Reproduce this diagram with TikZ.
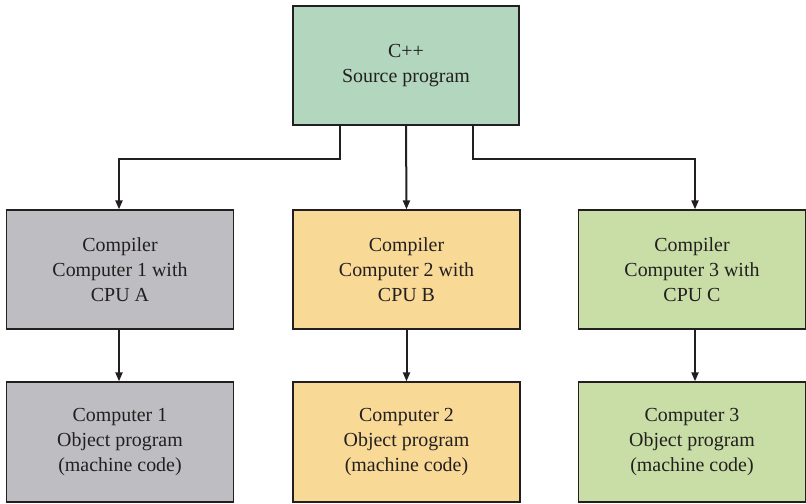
\documentclass[tikz,border=0pt]{standalone}
\usepackage{fontspec}
\setmainfont{Liberation Serif}
\usetikzlibrary{arrows.meta}
\definecolor{topg}{RGB}{178,214,190}
\definecolor{grayb}{RGB}{190,190,194}
\definecolor{yelb}{RGB}{248,217,150}
\definecolor{lgb}{RGB}{200,222,166}
\definecolor{ink}{RGB}{35,31,32}
\begin{document}
\begin{tikzpicture}[x=1bp,y=-1bp,
  box/.style={draw=ink,line width=1.3bp,minimum width=227bp,minimum height=119bp,inner sep=0pt,align=center,font=\fontsize{20}{25}\selectfont,text=ink},
  arr/.style={draw=ink,line width=2bp,-{Triangle[length=9bp,width=7bp]}}]
\useasboundingbox (0,0) rectangle (806,504);
\node[box,fill=topg,minimum width=226bp] (src) at (406,65.5) {C++\\Source program};
\node[box,fill=grayb] (c1) at (120,269.5) {Compiler\\Computer 1 with\\CPU A};
\node[box,fill=yelb] (c2) at (406.5,269.5) {Compiler\\Computer 2 with\\CPU B};
\node[box,fill=lgb] (c3) at (692,269.5) {Compiler\\Computer 3 with\\CPU C};
\node[box,fill=grayb,minimum height=120bp] (o1) at (120,442) {Computer 1\\Object program\\(machine code)};
\node[box,fill=yelb,minimum height=120bp] (o2) at (406.5,442) {Computer 2\\Object program\\(machine code)};
\node[box,fill=lgb,minimum height=120bp] (o3) at (692,442) {Computer 3\\Object program\\(machine code)};
\coordinate (k1) at (340,159);
\coordinate (k3) at (473,159);
\draw[arr] (src.south -| k1) |- (119,159) -- (c1.north -| 119,0);
\draw[arr] (src.south) -- (c2.north);
\draw[arr] (src.south -| k3) |- (695,159) -- (c3.north -| 695,0);
\draw[arr] (c1.south -| 119,0) -- (o1.north -| 119,0);
\draw[arr] (c2.south) -- (o2.north);
\draw[arr] (c3.south -| 695,0) -- (o3.north -| 695,0);
\end{tikzpicture}
\end{document}
